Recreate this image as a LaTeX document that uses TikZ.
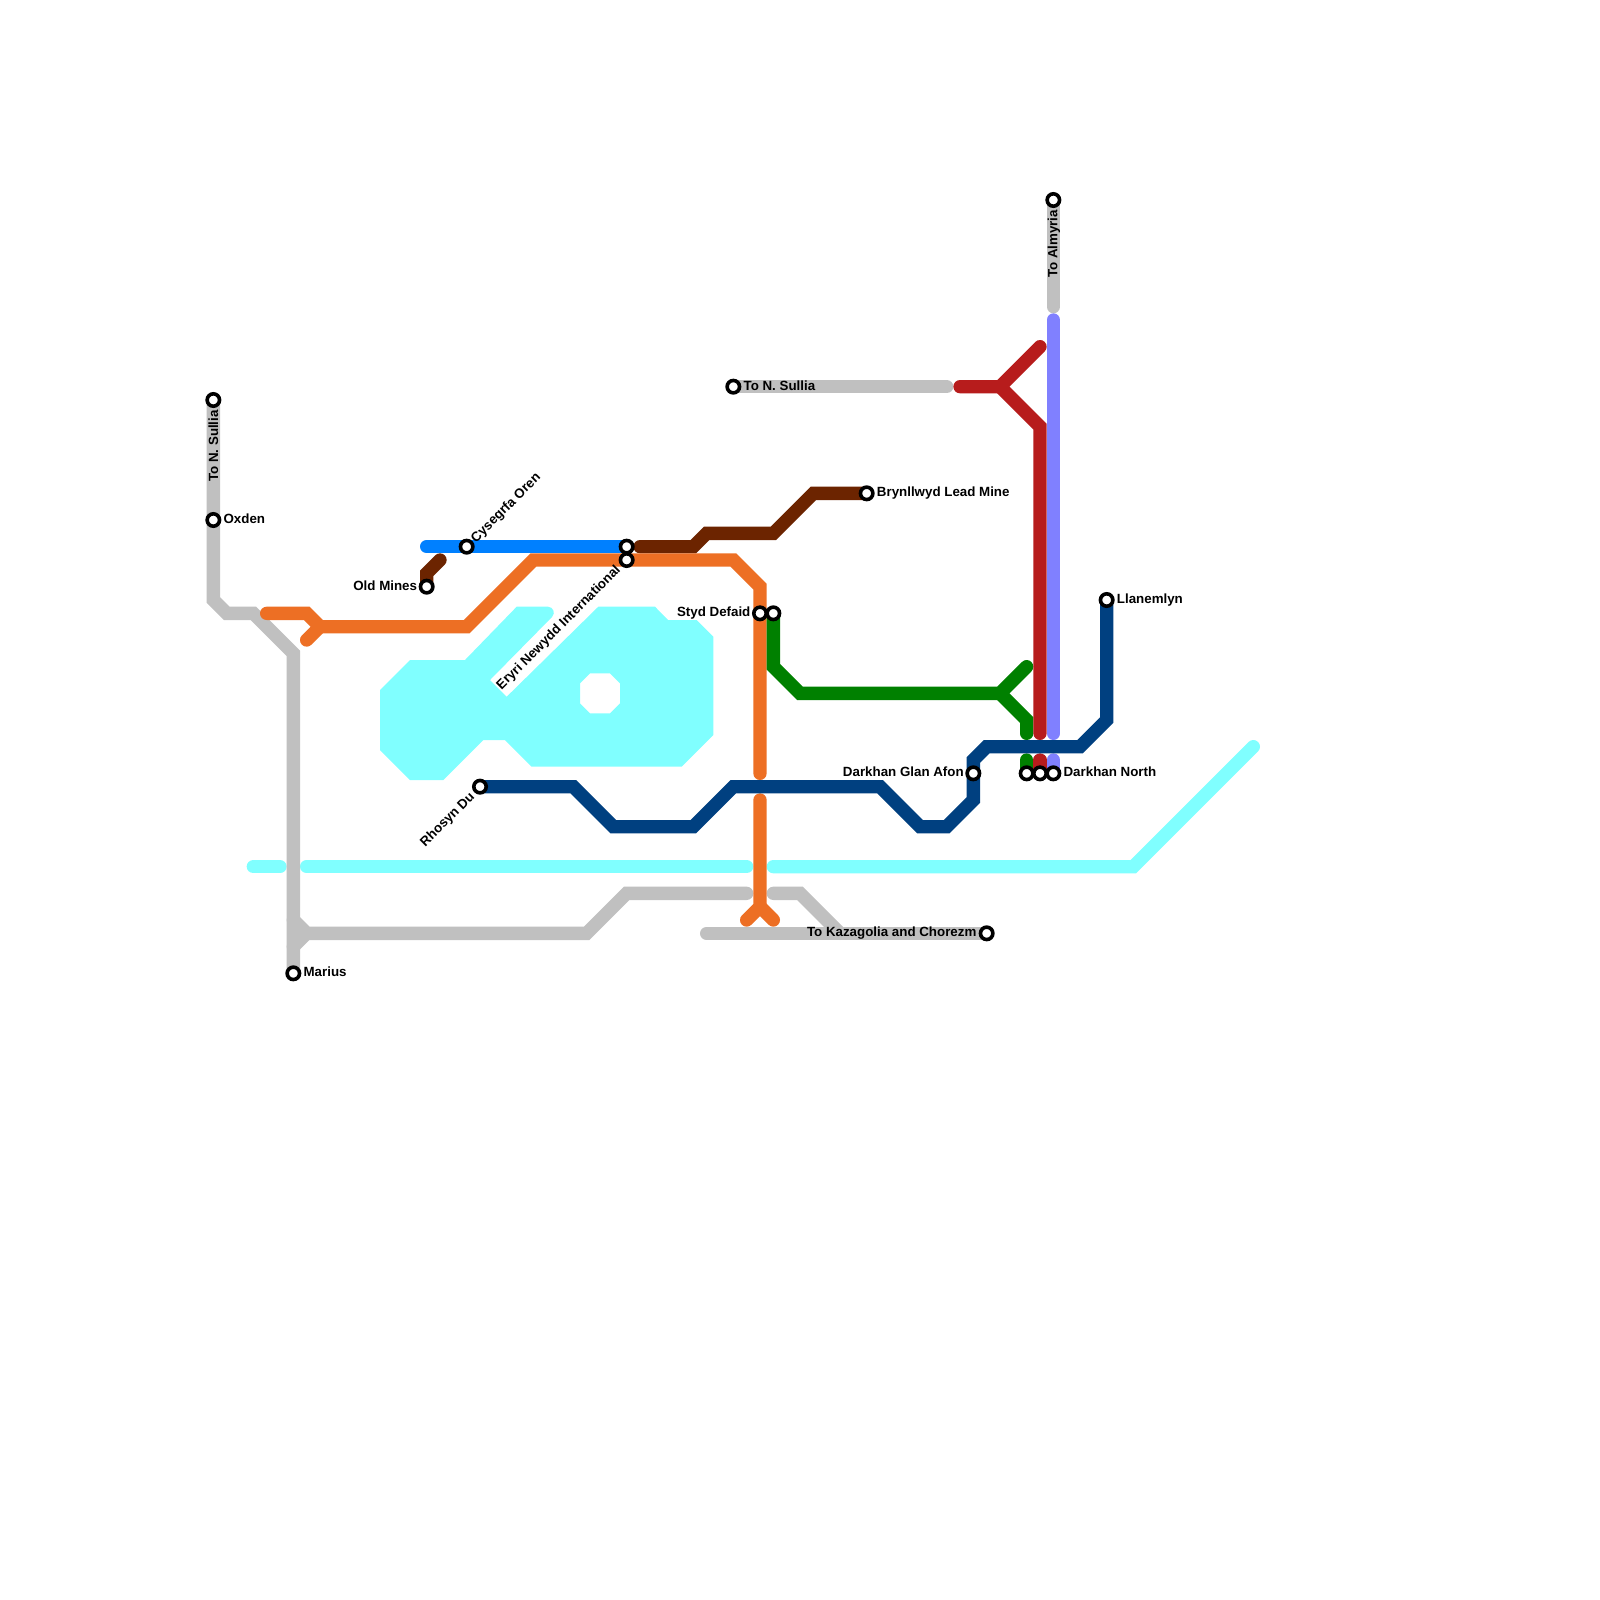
\documentclass[tikz,border=0pt]{standalone}
\usepackage{fontspec}
\setmainfont{Liberation Sans}
\usetikzlibrary{calc}
\pgfdeclarelayer{lines}
\pgfsetlayers{lines,main}
\definecolor{cwater}{HTML}{80FFFF}
\definecolor{cgray}{HTML}{C0C0C0}
\definecolor{corange}{HTML}{ED6F24}
\definecolor{cblue}{HTML}{0080FF}
\definecolor{cbrown}{HTML}{6C2400}
\definecolor{cnavy}{HTML}{004080}
\definecolor{cgreen}{HTML}{008000}
\definecolor{cred}{HTML}{B71C1C}
\definecolor{cpurple}{HTML}{8080FF}
\tikzset{
  metro/.style={line width=10pt,line cap=round,line join=miter,miter limit=4},
  stn/.style={circle,draw=black,fill=white,line width=2.7pt,minimum size=9.3pt,inner sep=0pt},
  lbl/.style={font=\bfseries\fontsize{10pt}{10pt}\selectfont,inner sep=0pt,text height=7pt,text depth=0pt,text=black},
}
\begin{document}
\begin{tikzpicture}[x=10pt,y=-10pt]
\useasboundingbox (0,0) rectangle (120,120);
% stations
\node[stn] (sullA) at (16,30) {};
\node[stn] (oxden) at (16,39) {};
\node[stn] (marius) at (22,73) {};
\node[stn] (oldmines) at (32,44) {};
\node[stn] (cysegrfa) at (35,41) {};
\node[stn] (rhosyn) at (36,59) {};
\node[stn] (eryriA) at (47,41) {};
\node[stn] (eryriB) at (47,42) {};
\node[stn] (sullB) at (55,29) {};
\node[stn] (stydA) at (57,46) {};
\node[stn] (stydB) at (58,46) {};
\node[stn] (bryn) at (65,37) {};
\node[stn] (glan) at (73,58) {};
\node[stn] (kaza) at (74,70) {};
\node[stn] (darkA) at (77,58) {};
\node[stn] (darkB) at (78,58) {};
\node[stn] (darkC) at (79,58) {};
\node[stn] (almyria) at (79,15) {};
\node[stn] (llan) at (83,45) {};
% labels
\node[lbl,rotate=90,anchor=east] (tSullA) at (16,30.75) {To N. Sullia};
\node[lbl,anchor=west] (tOxden) at (16.75,38.9) {Oxden};
\node[lbl,anchor=west] (tMarius) at (22.75,72.9) {Marius};
\node[lbl,anchor=east] (tOld) at (31.3,43.9) {Old Mines};
\node[lbl,rotate=45,anchor=west] (tCys) at (35.45,40.5) {Cysegrfa Oren};
\node[lbl,rotate=45,anchor=east] (tRho) at (35.4,59.55) {Rhosyn Du};
\node[lbl,rotate=45,anchor=east] (tEry) at (46.35,42.55) {Eryri Newydd International};
\node[lbl,anchor=west] (tSullB) at (55.75,28.9) {To N. Sullia};
\node[lbl,anchor=east] (tStyd) at (56.3,45.9) {Styd Defaid};
\node[lbl,anchor=west] (tBryn) at (65.75,36.9) {Brynllwyd Lead Mine};
\node[lbl,anchor=east] (tGlan) at (72.3,57.9) {Darkhan Glan Afon};
\node[lbl,anchor=east] (tKaza) at (73.25,69.9) {To Kazagolia and Chorezm};
\node[lbl,anchor=west] (tDark) at (79.75,57.9) {Darkhan North};
\node[lbl,rotate=90,anchor=east] (tAlm) at (78.95,15.72) {To Almyria};
\node[lbl,anchor=west] (tLlan) at (83.75,44.9) {Llanemlyn};
% free ends
\coordinate (cyA) at (19,65); \coordinate (cyB) at (21,65);
\coordinate (cyC) at (23,65); \coordinate (cyD) at (56,65);
\coordinate (cyE) at (58,65); \coordinate (cyF) at (94,56);
\coordinate (grA) at (47,67); \coordinate (grB) at (56,67);
\coordinate (grC) at (58,67); \coordinate (grD) at (53,70);
\coordinate (grE) at (71,29); \coordinate (grF) at (79,23);
\coordinate (orA) at (20,46); \coordinate (orB) at (23,48);
\coordinate (orC) at (57,58); \coordinate (orD) at (57,60);
\coordinate (orE) at (56,69); \coordinate (orF) at (58,69);
\coordinate (blA) at (32,41); \coordinate (brA) at (33,42); \coordinate (brB) at (48,41);
\coordinate (gnA) at (77,50); \coordinate (gnB) at (77,55); \coordinate (gnC) at (77,57);
\coordinate (rdA) at (72,29); \coordinate (rdB) at (78,26); \coordinate (rdC) at (78,55); \coordinate (rdD) at (78,57);
\coordinate (puA) at (79,24); \coordinate (puB) at (79,55); \coordinate (puC) at (79,57);
\begin{pgfonlayer}{lines}
\fill[white] (0,0) rectangle (120,120);
% water
\begin{scope}[x=0.75pt,y=-0.75pt]
\fill[cwater,even odd rule]
 (380,690) -- (410,660) -- (465,660) -- (516.7,606.7) -- (548,606.7)
 .. controls (553,606.7) and (556,613) .. (552,617)
 -- (490,680) -- (506.7,696.7) -- (598.3,606.7) -- (655,606.7) -- (668,620) -- (696.7,620)
 -- (713.3,636.7) -- (713.3,735) -- (681.7,766.7) -- (531.7,766.7) -- (505,740) -- (483.3,740)
 -- (443.3,780) -- (410,780) -- (380,750) -- cycle
 (590,673.3) -- (610,673.3) -- (620,683.3) -- (620,703.3) -- (610,713.3) -- (590,713.3) -- (580,703.3) -- (580,683.3) -- cycle;
\end{scope}
% cyan
\draw[metro,cwater] (cyA) -- (cyB);
\draw[metro,cwater] (cyC) -- (cyD);
\draw[metro,cwater] (cyE) -- (85,65) -- (cyF);
% gray
\draw[metro,cgray] (sullA.center) -- (16,45) -- (17,46) -- (19,46) -- (22,49) -- (marius.center);
\draw[metro,cgray] (22,69) -- (23,70) -- (44,70) -- (grA) -- (grB);
\draw[metro,cgray] (22,71) -- (23,70);
\draw[metro,cgray] (grC) -- (60,67) -- (63,70);
\draw[metro,cgray] (grD) -- (kaza.center);
\draw[metro,cgray] (sullB.center) -- (grE);
\draw[metro,cgray] (almyria.center) -- (grF);
% others
\draw[metro,cbrown] (oldmines.center) -- (32,43) -- (brA);
\draw[metro,cbrown] (brB) -- (52,41) -- (53,40) -- (58,40) -- (61,37) -- (bryn.center);
\draw[metro,cblue] (blA) -- (eryriA.center);
\draw[metro,corange] (orA) -- (23,46) -- (24,47) -- (orB);
\draw[metro,corange] (24,47) -- (35,47) -- (40,42) -- (55,42) -- (57,44) -- (orC);
\draw[metro,corange] (orD) -- (57,68) -- (orE);
\draw[metro,corange] (57,68) -- (orF);
\draw[metro,cgreen] (stydB.center) -- (58,50) -- (60,52) -- (75,52) -- (gnA);
\draw[metro,cgreen] (75,52) -- (77,54) -- (gnB);
\draw[metro,cgreen] (gnC) -- (darkA.center);
\draw[metro,cred] (rdA) -- (75,29) -- (rdB);
\draw[metro,cred] (75,29) -- (78,32) -- (rdC);
\draw[metro,cred] (rdD) -- (darkB.center);
\draw[metro,cpurple] (puA) -- (puB);
\draw[metro,cpurple] (puC) -- (darkC.center);
\draw[metro,cnavy] (rhosyn.center) -- (43,59) -- (46,62) -- (52,62) -- (55,59) -- (66,59) -- (69,62) -- (71,62) -- (73,60) -- (73,57) -- (74,56) -- (81,56) -- (83,54) -- (llan.center);
\end{pgfonlayer}
\end{tikzpicture}
\end{document}
